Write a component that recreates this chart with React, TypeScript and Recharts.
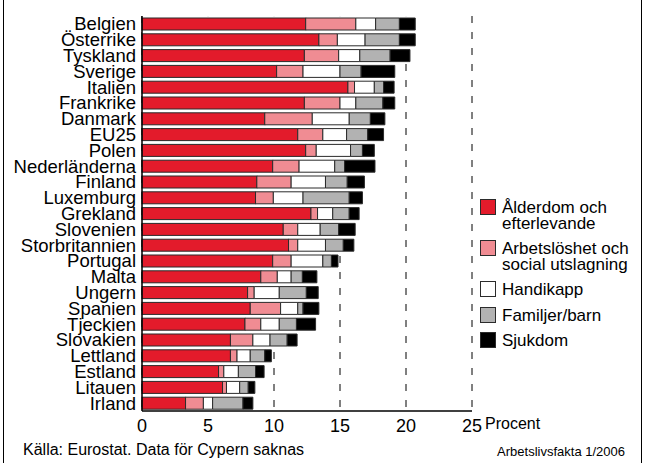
import React from 'react'
import { BarChart, Bar, XAxis, YAxis, CartesianGrid } from 'recharts'

// Sociala utgifter per funktion, andel av BNP (procent)
const countries = [
  'Belgien', 'Österrike', 'Tyskland', 'Sverige', 'Italien', 'Frankrike', 'Danmark', 'EU25', 'Polen',
  'Nederländerna', 'Finland', 'Luxemburg', 'Grekland', 'Slovenien', 'Storbritannien', 'Portugal',
  'Malta', 'Ungern', 'Spanien', 'Tjeckien', 'Slovakien', 'Lettland', 'Estland', 'Litauen', 'Irland'
]
const alder = [12.4, 13.4, 12.3, 10.2, 15.6, 12.3, 9.3, 11.8, 12.4, 9.9, 8.7, 8.6, 12.8, 10.7, 11.1, 9.9, 9.0, 8.0, 8.2, 7.8, 6.7, 6.7, 5.8, 6.1, 3.3]
const arbetsloshet = [3.8, 1.4, 2.6, 2.0, 0.5, 2.7, 3.6, 1.9, 0.8, 2.0, 2.6, 1.35, 0.5, 1.1, 0.7, 1.4, 1.25, 0.5, 2.3, 1.2, 1.7, 0.5, 0.4, 0.3, 1.35]
const handikapp = [1.5, 2.1, 1.6, 2.8, 1.5, 1.2, 2.8, 1.8, 2.6, 2.7, 2.6, 2.25, 1.15, 1.7, 2.1, 2.4, 1.05, 1.9, 1.3, 1.4, 1.3, 1.0, 1.1, 1.0, 0.7]
const familjer = [1.8, 2.6, 2.3, 1.6, 0.7, 2.05, 1.6, 1.6, 0.9, 0.75, 1.65, 3.5, 1.25, 1.4, 1.35, 0.65, 0.85, 2.05, 0.4, 1.3, 1.3, 1.1, 1.3, 0.65, 2.3]
const sjukdom = [1.2, 1.2, 1.5, 2.55, 0.8, 0.9, 1.1, 1.2, 0.9, 2.3, 1.3, 1.0, 0.75, 1.25, 0.8, 0.5, 1.1, 0.9, 1.2, 1.45, 0.75, 0.5, 0.65, 0.5, 0.75]
const xTicks = [0, 5, 10, 15, 20, 25]

const series = [
  { key: 'alder', label: ['Ålderdom och', 'efterlevande'], color: '#e31b2b' },
  { key: 'arbets', label: ['Arbetslöshet och', 'social utslagning'], color: '#f08c93' },
  { key: 'handikapp', label: ['Handikapp'], color: '#ffffff' },
  { key: 'familj', label: ['Familjer/barn'], color: '#b2b2b2' },
  { key: 'sjukdom', label: ['Sjukdom'], color: '#000000' }
]

const data = countries.map((name, i) => ({
  name,
  alder: alder[i],
  arbets: arbetsloshet[i],
  handikapp: handikapp[i],
  familj: familjer[i],
  sjukdom: sjukdom[i]
}))

const FONT = '"Liberation Sans", Arial, Helvetica, sans-serif'
const EDGE = '#2b2b2b'

// första segmentet ritar även en vit bakgrund under hela stapeln så att rutnätet döljs
const CoverShape = (props: any) => {
  const { x, y, width, height, payload, fill } = props
  const perUnit = width / payload.alder
  const total = payload.alder + payload.arbets + payload.handikapp + payload.familj + payload.sjukdom
  return (
    <g>
      <rect x={x} y={y - 1.9} width={total * perUnit} height={height + 3.8} fill='#fff' />
      <rect x={x} y={y} width={width} height={height} fill={fill} stroke={EDGE} strokeWidth={1} />
    </g>
  )
}

const ChartLegend = () => (
  <div
    style={{
      position: 'absolute',
      left: 480,
      top: 199,
      display: 'flex',
      flexDirection: 'column',
      gap: 9,
      fontFamily: FONT,
      fontSize: 17,
      lineHeight: '15.5px',
      color: '#000'
    }}
  >
    {series.map((s) => (
      <div key={s.key} style={{ display: 'flex', alignItems: 'flex-start' }}>
        <div
          style={{
            width: 16,
            height: 16,
            boxSizing: 'border-box',
            background: s.color,
            border: `1.5px solid ${EDGE}`,
            marginRight: 6
          }}
        />
        <div style={{ paddingTop: 1 }}>
          {s.label.map((l) => (
            <div key={l}>{l}</div>
          ))}
        </div>
      </div>
    ))}
  </div>
)

export default function App() {
  return (
    <div style={{ position: 'fixed', left: 0, top: 0, width: 646, height: 463, background: '#fff', fontFamily: FONT }}>
      <BarChart
        width={646}
        height={463}
        data={data}
        layout='vertical'
        margin={{ top: 16, right: 174, left: 0, bottom: 0 }}
        barSize={12}
      >
        <CartesianGrid horizontal={false} stroke='#000' strokeDasharray='7 9' />
        <XAxis
          type='number'
          domain={[0, 25]}
          ticks={xTicks}
          height={52}
          axisLine={{ stroke: '#000', strokeWidth: 1.5 }}
          tickLine={false}
          tick={{ fill: '#000', fontSize: 18, fontFamily: FONT }}
        />
        <YAxis
          type='category'
          dataKey='name'
          width={142}
          axisLine={{ stroke: '#000', strokeWidth: 1.5 }}
          tickLine={false}
          tickSize={4}
          tickMargin={2}
          interval={0}
          tick={{ fill: '#000', fontSize: 18.5, fontFamily: FONT }}
        />
        {series.map((s, i) => (
          <Bar
            key={s.key}
            dataKey={s.key}
            stackId='a'
            fill={s.color}
            stroke={EDGE}
            strokeWidth={1}
            shape={i === 0 ? CoverShape : undefined}
            isAnimationActive={false}
          />
        ))}
      </BarChart>
      <ChartLegend />
      <div style={{ position: 'absolute', left: 485, top: 415.5, fontSize: 16, lineHeight: '16px' }}>Procent</div>
      <div style={{ position: 'absolute', left: 23, top: 442, fontSize: 16, lineHeight: '16px' }}>
        Källa: Eurostat. Data för Cypern saknas
      </div>
      <div style={{ position: 'absolute', right: 21, top: 444.5, fontSize: 13, lineHeight: '13px' }}>
        Arbetslivsfakta 1/2006
      </div>
      <div style={{ position: 'absolute', left: 2.5, top: 0, width: 1.5, height: 463, background: '#000' }} />
      <div style={{ position: 'absolute', left: 640.5, top: 0, width: 1.5, height: 463, background: '#000' }} />
    </div>
  )
}
